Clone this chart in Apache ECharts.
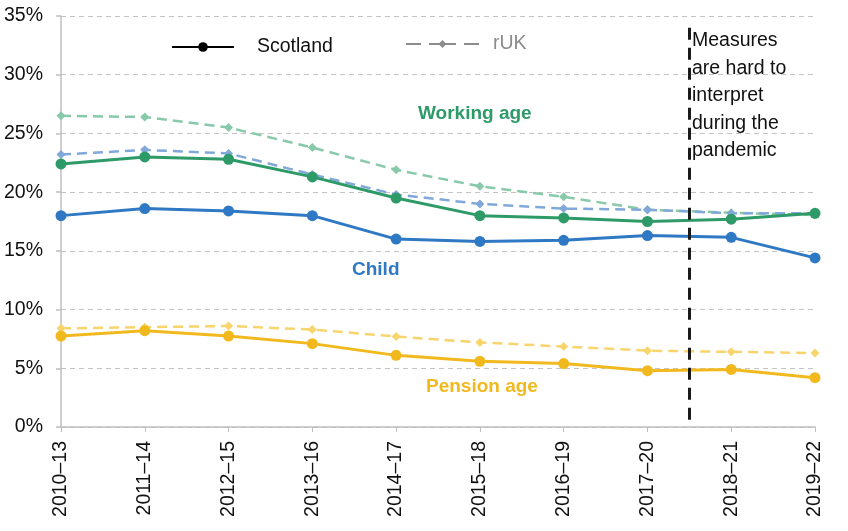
<!DOCTYPE html>
<html>
<head>
<meta charset="utf-8">
<script src="https://cdn.jsdelivr.net/npm/echarts@6/dist/echarts.min.js"></script>
<style>
  html, body { margin: 0; padding: 0; background: #fff; }
  #main { width: 848px; height: 531px; }
</style>
</head>
<body>
<div id="main"></div>
<script>
// periods on the x axis
var years = ["2010–13", "2011–14", "2012–15", "2013–16", "2014–17",
             "2015–18", "2016–19", "2017–20", "2018–21", "2019–22"];

// Scotland (solid)
var scotWorking = [22.4, 23.0, 22.8, 21.3, 19.5, 18.0, 17.8, 17.5, 17.7, 18.2];
var scotChild   = [18.0, 18.6, 18.4, 18.0, 16.0, 15.8, 15.9, 16.3, 16.15, 14.4];
var scotPension = [7.75, 8.2, 7.75, 7.1, 6.1, 5.6, 5.4, 4.8, 4.9, 4.2];

// rest of UK (dashed)
var rukWorking = [26.5, 26.4, 25.5, 23.8, 21.9, 20.5, 19.6, 18.5, 18.25, 18.05];
var rukChild   = [23.2, 23.6, 23.3, 21.5, 19.8, 19.0, 18.6, 18.5, 18.2, 18.2];
var rukPension = [8.4, 8.5, 8.6, 8.3, 7.7, 7.2, 6.85, 6.5, 6.4, 6.3];

var yTicks = [0, 5, 10, 15, 20, 25, 30, 35];

var green = "#2e9a68", blue = "#2f78c4", yellow = "#f2b91f";
var lgreen = "#88c9aa", lblue = "#80a8da", lyellow = "#f7d46c";

var font = "Liberation Sans, Arial, sans-serif";

function solid(name, data, color) {
  return {
    name: name, type: "line", data: data, xAxisIndex: 0, yAxisIndex: 0,
    symbol: "circle", symbolSize: 11, z: 3,
    lineStyle: { color: color, width: 3 },
    itemStyle: { color: color },
    silent: true
  };
}
function dashed(name, data, color) {
  return {
    name: name, type: "line", data: data, xAxisIndex: 0, yAxisIndex: 0,
    symbol: "diamond", symbolSize: 9, z: 2,
    lineStyle: { color: color, width: 2.5, type: [10, 6] },
    itemStyle: { color: color },
    silent: true
  };
}

var myChart = echarts.init(document.getElementById("main"));

var option = {
  animation: false,
  textStyle: { fontFamily: font },
  grid: { left: 61, right: 33, top: 16, bottom: 104, containLabel: false },
  legend: [
    {
      data: ["Scotland"], left: 166, top: 32, itemWidth: 62, itemHeight: 12,
      selectedMode: false,
      textStyle: { fontSize: 19.5, color: "#111", fontFamily: font, padding: [0, 0, 0, 18] }
    },
    {
      data: ["rUK"], left: 400, top: 29, itemWidth: 73, itemHeight: 10,
      selectedMode: false,
      textStyle: { fontSize: 19.5, color: "#8c8c8c", fontFamily: font, padding: [0, 0, 0, 9] }
    }
  ],
  xAxis: [
    {
      type: "category", data: years, boundaryGap: false,
      axisLine: { lineStyle: { color: "#bfbfbf", width: 1.5 } },
      axisTick: { show: true, alignWithLabel: true, length: 5, lineStyle: { color: "#bfbfbf" } },
      axisLabel: { rotate: 90, fontSize: 19.5, color: "#111", margin: 14, fontFamily: font },
      splitLine: { show: false }
    },
    {
      type: "value", min: 0, max: years.length - 1, show: false
    }
  ],
  yAxis: {
    type: "value", min: yTicks[0], max: yTicks[yTicks.length - 1], interval: 5,
    axisLine: { show: true, lineStyle: { color: "#bfbfbf", width: 1.5 } },
    axisTick: { show: true, length: 5, lineStyle: { color: "#bfbfbf", width: 1.5 } },
    axisLabel: { fontSize: 19.5, color: "#111", margin: 18, formatter: "{value}%", fontFamily: font },
    splitLine: { lineStyle: { color: "#c4c4c4", type: [5, 4], width: 1 } }
  },
  series: [
    dashed("rUK working", rukWorking, lgreen),
    dashed("rUK child", rukChild, lblue),
    dashed("rUK pension", rukPension, lyellow),
    solid("Scotland working", scotWorking, green),
    solid("Scotland child", scotChild, blue),
    solid("Scotland pension", scotPension, yellow),
    {
      name: "Scotland", type: "line", data: [],
      symbol: "circle", symbolSize: 12,
      lineStyle: { color: "#000", width: 3.5 }, itemStyle: { color: "#000" }
    },
    {
      name: "rUK", type: "line", data: [],
      symbol: "diamond", symbolSize: 11,
      lineStyle: { color: "#8c8c8c", width: 3, type: [15, 8, 27, 8] }, itemStyle: { color: "#8c8c8c" }
    },
    {
      name: "pandemic", type: "line", data: [], xAxisIndex: 1, yAxisIndex: 0,
      silent: true,
      markLine: {
        symbol: "none", silent: true, label: { show: false },
        lineStyle: { color: "#1a1a1a", width: 3, type: [12, 8] },
        data: [[{ coord: [7.5, 34] }, { coord: [7.5, 0] }]]
      }
    }
  ],
  graphic: [
    {
      type: "text", left: 692, top: 27,
      style: {
        text: "Measures\nare hard to\ninterpret\nduring the\npandemic",
        fontSize: 19.5, lineHeight: 27.5, fill: "#111", fontFamily: font
      }
    },
    {
      type: "text", left: 418, top: 104,
      style: { text: "Working age", fontSize: 19, fontWeight: "bold", fill: green, fontFamily: font }
    },
    {
      type: "text", left: 352, top: 260,
      style: { text: "Child", fontSize: 19, fontWeight: "bold", fill: blue, fontFamily: font }
    },
    {
      type: "text", left: 426, top: 377,
      style: { text: "Pension age", fontSize: 19, fontWeight: "bold", fill: yellow, fontFamily: font }
    }
  ]
};
myChart.setOption(option);
</script>
</body>
</html>
